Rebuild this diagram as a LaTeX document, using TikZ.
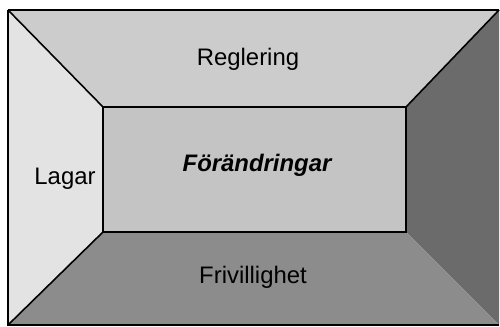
\documentclass[tikz,border=0pt]{standalone}
\usepackage{fontspec}
\setmainfont{Liberation Sans}
\begin{document}
\begin{tikzpicture}[x=0.02cm,y=-0.02cm,
  lbl/.style={font=\fontsize{13.6pt}{16pt}\selectfont, anchor=base, inner sep=0pt},
  edge/.style={line width=0.9pt, black}]
\useasboundingbox (0,0) rectangle (500,327);
% corners
\coordinate (OTL) at (8,10);
\coordinate (OTR) at (499,10);
\coordinate (OBR) at (499,325);
\coordinate (OBL) at (8,325);
\coordinate (ITL) at (103,107);
\coordinate (ITR) at (406,107);
\coordinate (IBR) at (406,232);
\coordinate (IBL) at (103,232);
% faces
\fill[black!20] (OTL) -- (OTR) -- (ITR) -- (ITL) -- cycle;
\fill[black!11] (OTL) -- (ITL) -- (IBL) -- (OBL) -- cycle;
\fill[black!58] (OTR) -- (OBR) -- (IBR) -- (ITR) -- cycle;
\fill[black!45] (IBL) -- (IBR) -- (OBR) -- (OBL) -- cycle;
\fill[black!23] (ITL) rectangle (IBR);
% lines
\draw[edge] (OTL) -- (OTR);
\draw[edge] (OTL) -- (OBL) -- (OBR);
\draw[edge] (OTL) -- (ITL);
\draw[edge] (OTR) -- (ITR);
\draw[edge] (OBL) -- (IBL);
\draw[edge] (ITL) rectangle (IBR);
% labels
\node[lbl] (reg) at (248,66) {Reglering};
\node[lbl] (lag) at (65,185) {Lagar};
\node[lbl] (for) at (257,172) {\bfseries\itshape Förändringar};
\node[lbl] (fri) at (253,284) {Frivillighet};
\end{tikzpicture}
\end{document}
